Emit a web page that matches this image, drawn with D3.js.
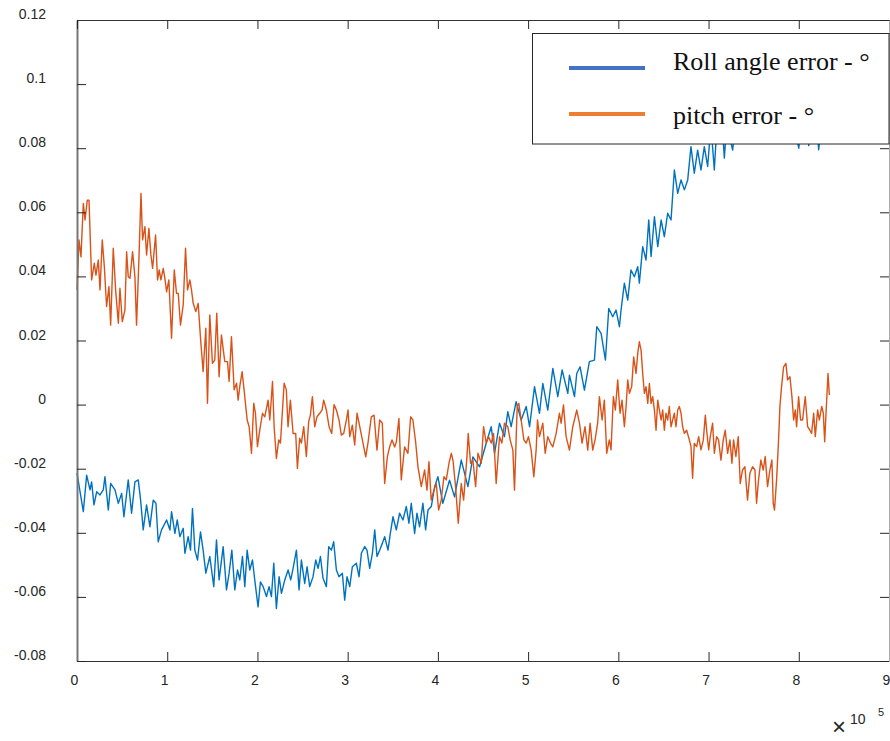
<!DOCTYPE html>
<html>
<head>
<meta charset="utf-8">
<script src="https://cdn.jsdelivr.net/npm/d3@7"></script>
<style>
  body { margin: 0; background: #fff; }
</style>
</head>
<body>
<svg width="890" height="741"></svg>
<script>
// ticks (x is in units of 10^5)
const xTicks = [0, 1, 2, 3, 4, 5, 6, 7, 8, 9];
const xTickLabels = ['0', '1', '2', '3', '4', '5', '6', '7', '8', '9'];
const yTicks = [-0.08, -0.06, -0.04, -0.02, 0, 0.02, 0.04, 0.06, 0.08, 0.1, 0.12];
const yTickLabels = ['-0.08', '-0.06', '-0.04', '-0.02', '0', '0.02', '0.04', '0.06', '0.08', '0.1', '0.12'];

const seriesNames = ['Roll angle error - \u00B0', 'pitch error - \u00B0'];

// roll angle error (blue)
const rollX = [0.00, 0.070, 0.107, 0.144, 0.162, 0.188, 0.218, 0.255, 0.291, 0.310, 0.347, 0.373, 0.421, 0.458, 0.495,
  0.520, 0.568, 0.605, 0.642, 0.679, 0.705, 0.734, 0.771, 0.808, 0.845, 0.875, 0.900, 0.937, 0.993, 1.030,
  1.048, 1.085, 1.111, 1.140, 1.177, 1.196, 1.232, 1.258, 1.280, 1.306, 1.336, 1.369, 1.398, 1.428, 1.472,
  1.516, 1.546, 1.575, 1.620, 1.657, 1.686, 1.716, 1.749, 1.779, 1.804, 1.834, 1.860, 1.886, 1.915, 1.945,
  1.970, 2.007, 2.033, 2.063, 2.100, 2.129, 2.155, 2.181, 2.210, 2.240, 2.266, 2.303, 2.340, 2.369, 2.395,
  2.432, 2.461, 2.487, 2.524, 2.550, 2.579, 2.616, 2.646, 2.672, 2.698, 2.727, 2.764, 2.790, 2.820, 2.845,
  2.875, 2.904, 2.941, 2.967, 2.993, 3.023, 3.052, 3.096, 3.126, 3.152, 3.189, 3.214, 3.244, 3.274, 3.300,
  3.325, 3.355, 3.384, 3.410, 3.447, 3.473, 3.502, 3.539, 3.576, 3.613, 3.650, 3.679, 3.705, 3.742, 3.768,
  3.797, 3.834, 3.864, 3.890, 3.927, 3.964, 4.000, 4.055, 4.129, 4.185, 4.259, 4.333, 4.388, 4.462, 4.536,
  4.591, 4.628, 4.683, 4.738, 4.775, 4.812, 4.867, 4.923, 4.979, 5.016, 5.071, 5.126, 5.163, 5.218, 5.274,
  5.329, 5.377, 5.440, 5.458, 5.514, 5.539, 5.576, 5.624, 5.679, 5.735, 5.761, 5.809, 5.857, 5.894, 5.938,
  5.975, 6.012, 6.030, 6.067, 6.104, 6.140, 6.178, 6.215, 6.233, 6.270, 6.307, 6.337, 6.363, 6.400, 6.437,
  6.474, 6.510, 6.547, 6.584, 6.621, 6.658, 6.695, 6.732, 6.769, 6.805, 6.842, 6.879, 6.916, 6.953, 6.990,
  7.020, 7.040, 7.064, 7.090, 7.120, 7.150, 7.175, 7.200, 7.230, 7.267, 7.300, 7.340, 7.380, 7.420, 7.460,
  7.500, 7.540, 7.580, 7.620, 7.660, 7.700, 7.740, 7.780, 7.820, 7.860, 7.900, 7.940, 7.970, 8.000, 8.030,
  8.060, 8.090, 8.110, 8.140, 8.170, 8.200, 8.220, 8.250, 8.290, 8.340];
const rollY = [-0.0214, -0.0334, -0.0220, -0.0266, -0.0241, -0.0313, -0.0272, -0.0282, -0.0266, -0.0225, -0.0329, -0.0246, -0.0266, -0.0308, -0.0277,
  -0.0350, -0.0235, -0.0339, -0.0241, -0.0235, -0.0298, -0.0391, -0.0313, -0.0381, -0.0298, -0.0308, -0.0428, -0.0391, -0.0360, -0.0391,
  -0.0334, -0.0402, -0.0360, -0.0412, -0.0386, -0.0464, -0.0412, -0.0454, -0.0324, -0.0454, -0.0485, -0.0397, -0.0454, -0.0526, -0.0474,
  -0.0568, -0.0422, -0.0547, -0.0443, -0.0578, -0.0526, -0.0454, -0.0578, -0.0516, -0.0547, -0.0474, -0.0568, -0.0454, -0.0516, -0.0485,
  -0.0547, -0.0631, -0.0553, -0.0568, -0.0599, -0.0568, -0.0599, -0.0495, -0.0636, -0.0537, -0.0589, -0.0547, -0.0516, -0.0547, -0.0511,
  -0.0454, -0.0578, -0.0485, -0.0558, -0.0506, -0.0568, -0.0537, -0.0485, -0.0511, -0.0474, -0.0542, -0.0568, -0.0443, -0.0454, -0.0428,
  -0.0516, -0.0537, -0.0526, -0.0610, -0.0537, -0.0568, -0.0506, -0.0495, -0.0537, -0.0464, -0.0443, -0.0454, -0.0511, -0.0464, -0.0391,
  -0.0474, -0.0454, -0.0433, -0.0412, -0.0454, -0.0402, -0.0350, -0.0391, -0.0339, -0.0360, -0.0318, -0.0370, -0.0308, -0.0402, -0.0339,
  -0.0381, -0.0308, -0.0391, -0.0329, -0.0318, -0.0256, -0.0225, -0.0308, -0.0236, -0.0288, -0.0173, -0.0256, -0.0163, -0.0194, -0.0120,
  -0.0069, -0.0152, -0.0058, -0.0100, -0.0022, -0.0069, 0.0009, -0.0048, -0.0006, -0.0069, 0.0056, -0.0027, 0.0066, -0.0017, 0.0113,
  0.0025, 0.0108, 0.0035, 0.0092, 0.0025, 0.0097, 0.0118, 0.0045, 0.0134, 0.0139, 0.0243, 0.0222, 0.0139, 0.0300, 0.0274,
  0.0295, 0.0243, 0.0295, 0.0379, 0.0326, 0.0420, 0.0399, 0.0430, 0.0379, 0.0493, 0.0451, 0.0576, 0.0462, 0.0586, 0.0493,
  0.0576, 0.0524, 0.0597, 0.0576, 0.0732, 0.0659, 0.0701, 0.0670, 0.0701, 0.0805, 0.0722, 0.0794, 0.0732, 0.0805, 0.0743,
  0.0850, 0.0820, 0.0732, 0.0860, 0.0830, 0.0880, 0.0769, 0.0870, 0.0840, 0.0794, 0.0880, 0.0850, 0.0900, 0.0860, 0.0910,
  0.0870, 0.0920, 0.0880, 0.0910, 0.0870, 0.0920, 0.0880, 0.0910, 0.0870, 0.0900, 0.0860, 0.0890, 0.0840, 0.0800, 0.0880,
  0.0850, 0.0890, 0.0808, 0.0870, 0.0840, 0.0880, 0.0795, 0.0870, 0.0850, 0.0880];

// pitch error (orange)
const pitchX = [0.000, 0.022, 0.044, 0.070, 0.089, 0.114, 0.133, 0.162, 0.192, 0.210, 0.236, 0.255, 0.280, 0.303, 0.328,
  0.354, 0.373, 0.402, 0.428, 0.458, 0.476, 0.502, 0.531, 0.550, 0.568, 0.587, 0.616, 0.642, 0.660, 0.686,
  0.709, 0.727, 0.753, 0.771, 0.797, 0.819, 0.838, 0.871, 0.893, 0.911, 0.930, 0.956, 0.974, 0.993, 1.018,
  1.048, 1.078, 1.103, 1.122, 1.147, 1.177, 1.203, 1.225, 1.251, 1.269, 1.288, 1.317, 1.343, 1.369, 1.398,
  1.428, 1.446, 1.472, 1.501, 1.527, 1.549, 1.575, 1.601, 1.638, 1.668, 1.686, 1.712, 1.742, 1.768, 1.786,
  1.804, 1.830, 1.856, 1.886, 1.908, 1.934, 1.959, 1.978, 2.000, 2.026, 2.056, 2.081, 2.118, 2.137, 2.167,
  2.185, 2.210, 2.236, 2.255, 2.296, 2.320, 2.339, 2.365, 2.395, 2.424, 2.443, 2.468, 2.487, 2.513, 2.542,
  2.568, 2.587, 2.609, 2.635, 2.660, 2.690, 2.716, 2.734, 2.764, 2.794, 2.823, 2.849, 2.875, 2.904, 2.930,
  2.956, 2.986, 3.004, 3.023, 3.052, 3.078, 3.104, 3.134, 3.170, 3.200, 3.225, 3.262, 3.292, 3.325, 3.355,
  3.384, 3.410, 3.440, 3.465, 3.491, 3.521, 3.540, 3.568, 3.594, 3.631, 3.668, 3.698, 3.723, 3.753, 3.779,
  3.816, 3.853, 3.879, 3.901, 3.926, 3.956, 3.982, 4.008, 4.037, 4.067, 4.093, 4.123, 4.149, 4.167, 4.196,
  4.226, 4.259, 4.285, 4.322, 4.336, 4.362, 4.388, 4.418, 4.444, 4.481, 4.506, 4.536, 4.562, 4.591, 4.617,
  4.646, 4.683, 4.709, 4.738, 4.775, 4.801, 4.831, 4.849, 4.879, 4.897, 4.923, 4.953, 4.979, 5.004, 5.034,
  5.063, 5.089, 5.104, 5.126, 5.163, 5.189, 5.218, 5.248, 5.274, 5.311, 5.347, 5.366, 5.392, 5.421, 5.458,
  5.495, 5.539, 5.569, 5.598, 5.631, 5.661, 5.687, 5.716, 5.742, 5.771, 5.790, 5.820, 5.845, 5.871, 5.900,
  5.919, 5.945, 5.967, 5.993, 6.019, 6.041, 6.067, 6.086, 6.104, 6.123, 6.148, 6.170, 6.196, 6.215, 6.233,
  6.252, 6.270, 6.289, 6.307, 6.326, 6.344, 6.363, 6.381, 6.400, 6.418, 6.437, 6.455, 6.474, 6.492, 6.510,
  6.528, 6.547, 6.565, 6.584, 6.602, 6.621, 6.639, 6.658, 6.676, 6.695, 6.713, 6.732, 6.757, 6.787, 6.805,
  6.823, 6.842, 6.868, 6.890, 6.916, 6.942, 6.964, 6.979, 7.001, 7.019, 7.045, 7.064, 7.089, 7.111, 7.137,
  7.163, 7.185, 7.211, 7.237, 7.259, 7.277, 7.303, 7.329, 7.351, 7.377, 7.403, 7.432, 7.458, 7.488, 7.514,
  7.532, 7.554, 7.580, 7.606, 7.628, 7.654, 7.680, 7.702, 7.717, 7.731, 7.754, 7.776, 7.791, 7.809, 7.832,
  7.857, 7.876, 7.902, 7.924, 7.943, 7.961, 7.976, 7.998, 8.020, 8.042, 8.072, 8.098, 8.124, 8.142, 8.165,
  8.183, 8.209, 8.228, 8.254, 8.272, 8.287, 8.302, 8.324, 8.339];
const pitchY = [0.0358, 0.0514, 0.0461, 0.0628, 0.0576, 0.0638, 0.0638, 0.0389, 0.0441, 0.0404, 0.0451, 0.0358, 0.0514, 0.0430, 0.0306,
  0.0368, 0.0248, 0.0488, 0.0358, 0.0254, 0.0363, 0.0259, 0.0295, 0.0477, 0.0399, 0.0394, 0.0477, 0.0399, 0.0248, 0.0451,
  0.0659, 0.0514, 0.0555, 0.0467, 0.0550, 0.0467, 0.0425, 0.0529, 0.0389, 0.0420, 0.0389, 0.0425, 0.0394, 0.0352, 0.0389,
  0.0207, 0.0420, 0.0347, 0.0347, 0.0248, 0.0311, 0.0488, 0.0358, 0.0389, 0.0358, 0.0316, 0.0290, 0.0316, 0.0207, 0.0103,
  0.0238, 0.0004, 0.0280, 0.0129, 0.0139, 0.0285, 0.0087, 0.0217, 0.0134, 0.0134, 0.0072, 0.0212, 0.0046, 0.0067, 0.0014,
  0.0056, 0.0103, 0.0035, -0.0048, -0.0069, -0.0152, 0.0004, -0.0027, -0.0131, -0.0079, -0.0027, -0.0038, 0.0014, -0.0048, 0.0072,
  -0.0069, -0.0168, -0.0110, -0.0120, 0.0067, 0.0046, -0.0069, 0.0014, -0.0090, -0.0090, -0.0199, -0.0105, -0.0120, -0.0069, -0.0162,
  -0.0053, -0.0032, 0.0025, -0.0069, -0.0038, -0.0027, -0.0017, 0.0014, -0.0017, -0.0069, -0.0090, 0.0000, -0.0017, -0.0048, -0.0095,
  -0.0090, -0.0048, -0.0017, -0.0100, -0.0064, -0.0126, -0.0027, -0.0069, -0.0120, -0.0163, -0.0120, -0.0038, -0.0033, -0.0142, -0.0048,
  -0.0058, -0.0246, -0.0163, -0.0132, -0.0110, -0.0132, -0.0116, -0.0043, -0.0235, -0.0132, -0.0152, -0.0038, -0.0048, -0.0116, -0.0194,
  -0.0256, -0.0204, -0.0267, -0.0178, -0.0298, -0.0267, -0.0246, -0.0329, -0.0298, -0.0225, -0.0235, -0.0183, -0.0152, -0.0173, -0.0256,
  -0.0370, -0.0246, -0.0298, -0.0163, -0.0090, -0.0183, -0.0173, -0.0256, -0.0152, -0.0183, -0.0069, -0.0120, -0.0100, -0.0120, -0.0090,
  -0.0246, -0.0100, -0.0120, -0.0058, -0.0069, -0.0110, -0.0142, -0.0267, -0.0006, 0.0004, -0.0048, -0.0110, -0.0120, -0.0100, -0.0142,
  -0.0225, -0.0142, -0.0048, -0.0100, -0.0058, -0.0152, -0.0100, -0.0120, -0.0132, -0.0090, -0.0027, -0.0058, -0.0001, -0.0100, -0.0142,
  -0.0069, -0.0017, -0.0058, -0.0120, -0.0069, -0.0142, -0.0058, -0.0142, -0.0110, -0.0058, 0.0025, -0.0048, 0.0014, -0.0152, -0.0110,
  -0.0141, 0.0025, -0.0017, 0.0077, -0.0027, 0.0014, -0.0069, -0.0006, 0.0077, 0.0035, 0.0056, 0.0149, 0.0097, 0.0160, 0.0196,
  0.0170, 0.0097, 0.0035, 0.0056, 0.0004, 0.0066, 0.0004, 0.0025, -0.0017, -0.0080, 0.0014, -0.0017, -0.0048, -0.0017, -0.0080,
  -0.0027, -0.0048, -0.0006, -0.0069, -0.0048, -0.0027, -0.0069, -0.0017, -0.0006, -0.0027, -0.0069, -0.0090, -0.0080, -0.0110, -0.0131,
  -0.0230, -0.0121, -0.0131, -0.0100, -0.0141, -0.0110, -0.0033, -0.0080, -0.0141, -0.0100, -0.0058, -0.0152, -0.0100, -0.0110, -0.0173,
  -0.0110, -0.0080, -0.0152, -0.0110, -0.0183, -0.0110, -0.0162, -0.0100, -0.0246, -0.0204, -0.0194, -0.0298, -0.0214, -0.0194, -0.0204,
  -0.0308, -0.0235, -0.0173, -0.0204, -0.0162, -0.0256, -0.0204, -0.0173, -0.0308, -0.0329, -0.0235, -0.0110, -0.0006, 0.0056, 0.0118,
  0.0129, 0.0077, 0.0087, 0.0025, -0.0048, -0.0017, -0.0069, 0.0025, -0.0048, -0.0048, 0.0025, -0.0069, -0.0080, -0.0090, -0.0027,
  -0.0100, -0.0017, -0.0048, -0.0006, -0.0027, -0.0116, -0.0027, 0.0097, 0.0030];

const svg = d3.select('svg');
const width = +svg.attr('width');
const height = +svg.attr('height');

// plot box edges
const plotLeft = 77, plotRight = 889, plotTop = 20, plotBottom = 661;

const x = d3.scaleLinear().domain([0, 9]).range([plotLeft, plotRight]);
const y = d3.scaleLinear().domain([-0.08, 0.12]).range([plotBottom, plotTop]);

const tickFont = '"Liberation Sans", Arial, Helvetica, sans-serif';
const textColor = '#262626';

// data lines
const line = d3.line().x(d => x(d[0])).y(d => y(d[1]));

svg.append('path')
  .datum(d3.zip(rollX, rollY))
  .attr('fill', 'none')
  .attr('stroke', '#0072BD')
  .attr('stroke-width', 1.4)
  .attr('stroke-linejoin', 'round')
  .attr('d', line);

svg.append('path')
  .datum(d3.zip(pitchX, pitchY))
  .attr('fill', 'none')
  .attr('stroke', '#D95319')
  .attr('stroke-width', 1.4)
  .attr('stroke-linejoin', 'round')
  .attr('d', line);

// axes, ticks point inward
const xAxis = svg.append('g')
  .attr('transform', `translate(0,${plotBottom})`)
  .call(d3.axisBottom(x).tickValues(xTicks).tickFormat((d, i) => xTickLabels[i])
    .tickSize(-9).tickSizeOuter(0).tickPadding(14));
xAxis.selectAll('text').attr('dx', -3);

const yAxis = svg.append('g')
  .attr('transform', `translate(${plotLeft},0)`)
  .call(d3.axisLeft(y).tickValues(yTicks).tickFormat((d, i) => yTickLabels[i])
    .tickSize(-9).tickSizeOuter(0).tickPadding(31));
yAxis.selectAll('text').attr('dy', -1.5);

const topAxis = svg.append('g')
  .attr('transform', `translate(0,${plotTop})`)
  .call(d3.axisTop(x).tickValues(xTicks).tickFormat('').tickSize(-9).tickSizeOuter(0));

const rightAxis = svg.append('g')
  .attr('transform', `translate(${plotRight},0)`)
  .call(d3.axisRight(y).tickValues(yTicks).tickFormat('').tickSize(-9).tickSizeOuter(0));

[xAxis, yAxis, topAxis, rightAxis].forEach(g => {
  g.attr('font-family', tickFont).attr('font-size', 14);
  g.selectAll('text').attr('fill', textColor);
  g.selectAll('.tick line').attr('stroke', textColor).attr('stroke-width', 1);
});
xAxis.select('.domain').attr('stroke', '#333').attr('stroke-width', 1.2);
topAxis.select('.domain').attr('stroke', '#333').attr('stroke-width', 1.2);
yAxis.select('.domain').attr('stroke', '#777').attr('stroke-width', 2);
rightAxis.select('.domain').attr('stroke', '#aaa').attr('stroke-width', 1);

// x10^5 multiplier
const mult = svg.append('g').attr('fill', textColor).attr('font-family', tickFont);
mult.append('text').attr('x', 832).attr('y', 735).attr('font-size', 24).attr('font-weight', 300).text('\u00D7');
mult.append('text').attr('x', 850).attr('y', 724).attr('font-size', 14).text('10');
mult.append('text').attr('x', 878).attr('y', 716).attr('font-size', 11).text('5');

// legend
const legend = svg.append('g');
legend.append('rect')
  .attr('x', 532.5).attr('y', 33.5)
  .attr('width', plotRight - 532.5).attr('height', 110.5)
  .attr('fill', '#fff')
  .attr('stroke', '#262626')
  .attr('stroke-width', 1);

const legendColors = ['#4472C4', '#ED7D31'];
const legendLineY = [68, 114];
const legendTextY = [69.5, 123.5];

seriesNames.forEach((name, i) => {
  legend.append('line')
    .attr('x1', 569).attr('x2', 645)
    .attr('y1', legendLineY[i]).attr('y2', legendLineY[i])
    .attr('stroke', legendColors[i])
    .attr('stroke-width', 4);
  legend.append('text')
    .attr('x', 673).attr('y', legendTextY[i])
    .attr('font-family', '"Liberation Serif", "Times New Roman", serif')
    .attr('font-size', 26)
    .attr('fill', '#111')
    .text(name);
});
</script>
</body>
</html>
